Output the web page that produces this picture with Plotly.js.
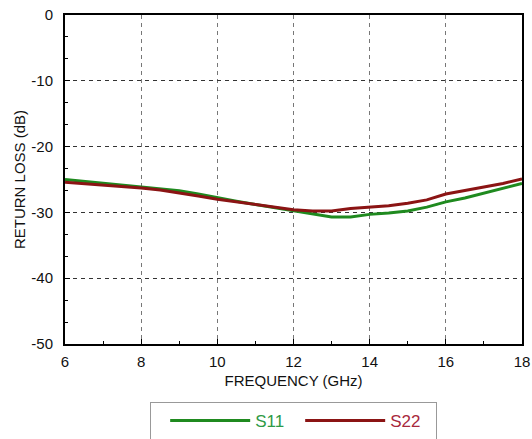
<!DOCTYPE html>
<html>
<head>
<meta charset="utf-8">
<script src="https://cdn.plot.ly/plotly-3.0.1.min.js"></script>
<style>html,body{margin:0;padding:0;background:#fff;}#chart{width:532px;height:439px;}</style>
</head>
<body>
<div id="chart"></div>
<script>
const freqGHz = [6, 6.5, 7, 7.5, 8, 8.5, 9, 9.5, 10, 10.5, 11, 11.5, 12, 12.5, 13, 13.5, 14, 14.5, 15, 15.5, 16, 16.5, 17, 17.5, 18];
const s11 = [-25.0, -25.3, -25.6, -25.9, -26.2, -26.4, -26.7, -27.2, -27.8, -28.3, -28.8, -29.3, -29.8, -30.3, -30.7, -30.7, -30.3, -30.1, -29.8, -29.2, -28.4, -27.8, -27.1, -26.4, -25.6];
const s22 = [-25.4, -25.6, -25.9, -26.1, -26.3, -26.6, -27.0, -27.5, -28.0, -28.4, -28.8, -29.2, -29.6, -29.8, -29.8, -29.4, -29.2, -29.0, -28.6, -28.1, -27.2, -26.7, -26.1, -25.6, -24.9];
const xTicks = [6, 8, 10, 12, 14, 16, 18];
const yTicks = [0, -10, -20, -30, -40, -50];
const yTickLabels = ['0', '-10', '-20', '-30', '-40', '-50'];

const traces = [
  {x: freqGHz, y: s11, mode: 'lines', name: '<span style="color:#2e9a46">S11</span>',
   line: {color: '#1f8a1f', width: 3}},
  {x: freqGHz, y: s22, mode: 'lines', name: '<span style="color:#a8283c">S22</span>',
   line: {color: '#8b1414', width: 3}}
];

const FONT = 'Liberation Sans, Arial, sans-serif';
const axisCommon = {
  showline: true, linecolor: '#000', linewidth: 2, mirror: true,
  showgrid: true, griddash: '4px,4px', gridwidth: 1,
  ticks: 'inside', ticklen: 5, tickcolor: '#000', tickwidth: 1,
  zeroline: false,
  tickfont: {family: FONT, size: 15, color: '#111'}
};

const layout = {
  width: 532, height: 439,
  margin: {l: 65, r: 10, t: 15, b: 95},
  paper_bgcolor: '#fff', plot_bgcolor: '#fff',
  font: {family: FONT, size: 15, color: '#111'},
  xaxis: Object.assign({}, axisCommon, {
    range: [6, 18], tickvals: xTicks, gridcolor: '#777', ticklabelstandoff: 3,
    minor: {dtick: 1, ticks: 'inside', ticklen: 3, tickcolor: '#000', showgrid: false},
    title: {text: 'FREQUENCY (GHz)', standoff: 6, font: {size: 15}}
  }),
  yaxis: Object.assign({}, axisCommon, {
    range: [-50, 0], tickvals: yTicks, ticktext: yTickLabels, gridcolor: '#333', ticklabelstandoff: 7,
    minor: {dtick: 10/3, ticks: 'inside', ticklen: 3, tickcolor: '#000', showgrid: false},
    title: {text: 'RETURN LOSS (dB)', standoff: 2, font: {size: 15}}
  }),
  showlegend: true,
  legend: {
    orientation: 'h', x: 150/532, xanchor: 'left', xref: 'container',
    y: (439 - 402) / 439, yanchor: 'top', yref: 'container',
    bgcolor: '#fff', bordercolor: '#999', borderwidth: 1,
    itemwidth: 80, entrywidth: 40, font: {size: 17}, traceorder: 'normal',
    title: {text: '&nbsp;', side: 'left', font: {size: 15}}
  }
};

Plotly.newPlot('chart', traces, layout, {displayModeBar: false, staticPlot: true});
</script>
</body>
</html>
